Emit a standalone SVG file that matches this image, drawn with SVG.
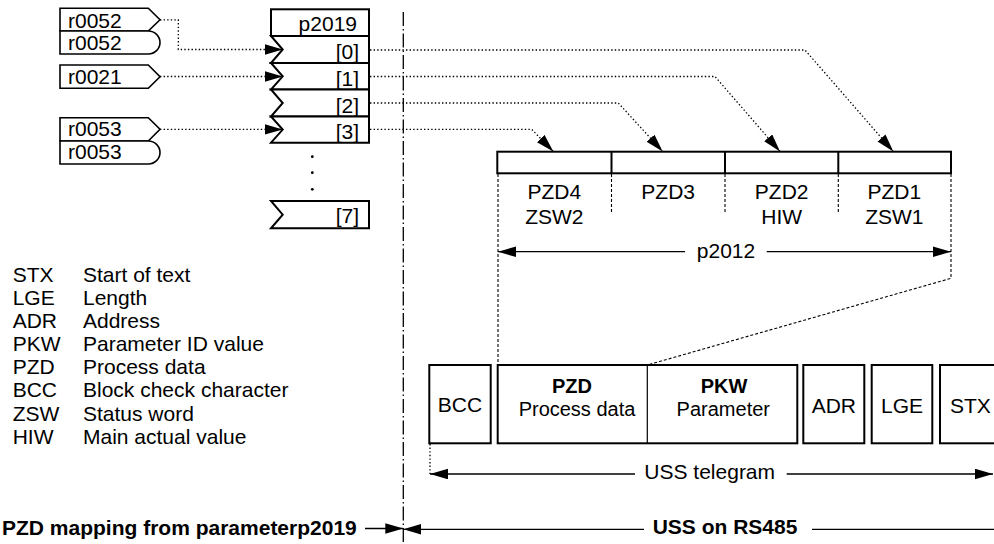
<svg xmlns="http://www.w3.org/2000/svg" width="994" height="544" viewBox="0 0 994 544">
<style>
  text { font-family: "Liberation Sans", Arial, sans-serif; font-size: 21px; fill: #000; }
  .b { font-weight: bold; }
  .m { text-anchor: middle; }
  .e { text-anchor: end; }
  .s { font-size: 20px; }
  .box { fill: #fff; stroke: #000; stroke-width: 2; }
  .sbox { fill: #fff; stroke: #000; stroke-width: 1.6; }
  .thin { fill: none; stroke: #000; stroke-width: 1.2; }
  .dot { fill: none; stroke: #000; stroke-width: 1.3; stroke-dasharray: 1.4 2.2; }
  .dash { fill: none; stroke: #000; stroke-width: 1.1; stroke-dasharray: 3 2; }
  .dd { fill: none; stroke: #000; stroke-width: 1.3; stroke-dasharray: 14 3 1.5 3; }
  .ln { fill: none; stroke: #000; stroke-width: 1.3; }
</style>
<defs>
  <marker id="ah" markerUnits="userSpaceOnUse" markerWidth="19" markerHeight="12" refX="18" refY="5.3" orient="auto" viewBox="0 0 19 12">
    <path d="M0,0 L18,5.3 L0,10.6 Z" fill="#000"/>
  </marker>
</defs>

<!-- separator -->
<line class="dd" x1="403.3" y1="12" x2="403.3" y2="544"/>

<!-- input sources -->
<g id="src-r0052a">
  <path class="sbox" d="M60,8.3 H148.3 L160,19.8 L148.3,31 H60 Z"/>
  <text x="68" y="27.5">r0052</text>
</g>
<g id="src-r0052b">
  <path class="sbox" d="M60,31 H148.3 A11.7 11.5 0 0 1 148.3,54 H60 Z"/>
  <text x="68" y="50.3">r0052</text>
</g>
<g id="src-r0021">
  <path class="sbox" d="M60,65 H148.3 L160,76.7 L148.3,88.3 H60 Z"/>
  <text x="68" y="83.5">r0021</text>
</g>
<g id="src-r0053a">
  <path class="sbox" d="M60,117.7 H148.3 L160,129.3 L148.3,141 H60 Z"/>
  <text x="68" y="135.5">r0053</text>
</g>
<g id="src-r0053b">
  <path class="sbox" d="M60,141 H148.3 A11.7 11.5 0 0 1 148.3,164 H60 Z"/>
  <text x="68" y="158.5">r0053</text>
</g>

<!-- p2019 block -->
<g id="p2019">
  <rect class="box" x="271" y="9.3" width="98" height="26.7"/>
  <text class="e" x="357" y="30.7">p2019</text>
  <path class="box" d="M271,36 H369 V63 H271 L282.7,49.5 Z"/>
  <text class="e" x="359" y="59.3">[0]</text>
  <path class="box" d="M271,63 H369 V89.5 H271 L282.7,76.3 Z"/>
  <text class="e" x="359" y="86">[1]</text>
  <path class="box" d="M271,89.5 H369 V116.5 H271 L282.7,103 Z"/>
  <text class="e" x="359" y="112.5">[2]</text>
  <path class="box" d="M271,116.5 H369 V142.7 H271 L282.7,129.6 Z"/>
  <text class="e" x="359" y="138.8">[3]</text>
  <circle cx="312.3" cy="156.7" r="1.4"/>
  <circle cx="312.3" cy="172.7" r="1.4"/>
  <circle cx="312.3" cy="189.3" r="1.4"/>
  <path class="box" d="M271,201 H369 V228.3 H271 L282.7,214.7 Z"/>
  <text class="e" x="359" y="222.5">[7]</text>
</g>

<!-- PZD word frame -->
<g id="pzd-frame">
  <rect class="box" x="497.3" y="151.7" width="453.7" height="21.6"/>
  <line class="box" x1="611.5" y1="151.7" x2="611.5" y2="173.3"/>
  <line class="box" x1="725" y1="151.7" x2="725" y2="173.3"/>
  <line class="box" x1="838.3" y1="151.7" x2="838.3" y2="173.3"/>
  <line class="dash" x1="611.5" y1="174" x2="611.5" y2="213"/>
  <line class="dash" x1="725" y1="174" x2="725" y2="213"/>
  <line class="dash" x1="838.3" y1="174" x2="838.3" y2="213"/>
  <text class="m" x="554.3" y="199.3">PZD4</text>
  <text class="m" x="554.3" y="223.8">ZSW2</text>
  <text class="m" x="668.2" y="199.3">PZD3</text>
  <text class="m" x="781.7" y="199.3">PZD2</text>
  <text class="m" x="781.7" y="223.8">HIW</text>
  <text class="m" x="894.3" y="199.3">PZD1</text>
  <text class="m" x="894.3" y="223.8">ZSW1</text>
  <text class="m" x="726" y="258">p2012</text>
</g>

<!-- legend -->
<g id="legend">
  <text x="12.7" y="282">STX</text><text x="83" y="282">Start of text</text>
  <text x="12.7" y="305">LGE</text><text x="83" y="305">Length</text>
  <text x="12.7" y="327.5">ADR</text><text x="83" y="327.5">Address</text>
  <text x="12.7" y="351">PKW</text><text x="83" y="351">Parameter ID value</text>
  <text x="12.7" y="374">PZD</text><text x="83" y="374">Process data</text>
  <text x="12.7" y="397">BCC</text><text x="83" y="397">Block check character</text>
  <text x="12.7" y="421">ZSW</text><text x="83" y="421">Status word</text>
  <text x="12.7" y="443.5">HIW</text><text x="83" y="443.5">Main actual value</text>
</g>

<!-- telegram -->
<g id="tg-bcc">
  <rect class="box" x="429.3" y="365" width="61.4" height="78.3"/>
  <text class="m" x="460" y="412">BCC</text>
</g>
<g id="tg-pzd-pkw">
  <rect class="box" x="497.7" y="365" width="299.6" height="78.3"/>
  <line class="thin" x1="647.3" y1="365" x2="647.3" y2="443.3"/>
  <text class="m b s" x="572" y="393">PZD</text>
  <text class="m s" x="577" y="415.5">Process data</text>
  <text class="m b s" x="724" y="393">PKW</text>
  <text class="m s" x="723.3" y="415.5">Parameter</text>
</g>
<g id="tg-adr">
  <rect class="box" x="803.3" y="365" width="61" height="78.3"/>
  <text class="m" x="833.8" y="412.5">ADR</text>
</g>
<g id="tg-lge">
  <rect class="box" x="871.7" y="365" width="60.6" height="78.3"/>
  <text class="m" x="902" y="412.5">LGE</text>
</g>
<g id="tg-stx">
  <rect class="box" x="940" y="365" width="70" height="78.3"/>
  <text x="950" y="412.5">STX</text>
</g>

<!-- bottom labels -->
<g id="labels">
  <text x="709.7" y="479" class="m">USS telegram</text>
  <text x="652.7" y="534" class="b">USS on RS485</text>
  <text x="2" y="535" class="b">PZD mapping from parameterp2019</text>
</g>

<!-- connectors -->
<g id="connectors">
  <path class="dot" d="M160,19.8 H178.3 V49.5 H282.7" marker-end="url(#ah)"/>
  <path class="dot" d="M160,76.5 H282.7" marker-end="url(#ah)"/>
  <path class="dot" d="M160,129.4 H282.7" marker-end="url(#ah)"/>

  <path class="dot" d="M370,50 H805 L893.3,151.5" marker-end="url(#ah)"/>
  <path class="dot" d="M370,76.5 H715 L780,151.5" marker-end="url(#ah)"/>
  <path class="dot" d="M370,103 H618.3 L662.7,151.5" marker-end="url(#ah)"/>
  <path class="dot" d="M370,129.3 H531.7 L553.3,151.5" marker-end="url(#ah)"/>

  <line class="dash" x1="498" y1="174" x2="498" y2="365"/>
  <path class="dash" d="M951,174 V278.3 L647.3,365"/>

  <line class="ln" x1="685" y1="251.7" x2="498" y2="251.7" marker-end="url(#ah)"/>
  <line class="ln" x1="766.7" y1="251.7" x2="951" y2="251.7" marker-end="url(#ah)"/>

  <line class="dot" x1="430" y1="444" x2="430" y2="474"/>
  <line class="ln" x1="635" y1="474" x2="430" y2="474" marker-end="url(#ah)"/>
  <line class="ln" x1="786.7" y1="474" x2="993" y2="474" marker-end="url(#ah)"/>

  <line class="ln" x1="644" y1="529.3" x2="403.3" y2="529.3" marker-end="url(#ah)"/>
  <line class="ln" x1="812" y1="529.3" x2="994" y2="529.3"/>
  <line class="ln" x1="365" y1="528.5" x2="403.3" y2="528.5" marker-end="url(#ah)"/>
</g>
</svg>
